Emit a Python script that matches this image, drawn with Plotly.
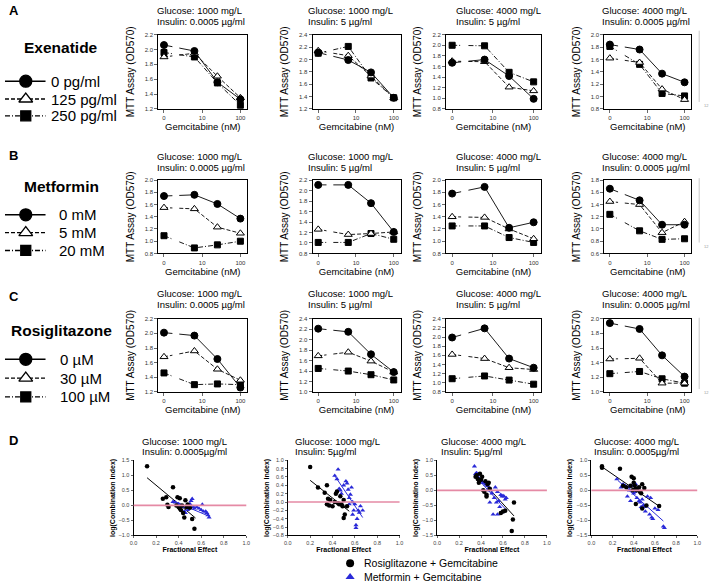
import math
import plotly.graph_objects as go

W, H = 720, 586
FONT = "Liberation Sans, Arial, sans-serif"

# ---------------- data ----------------
GEM_CONC = [0, 6.25, 25, 100]          # nM
GEM_TICK_TEXT = ["0", "10", "100"]

GLUCOSE = ["Glucose: 1000 mg/L", "Glucose: 1000 mg/L", "Glucose: 4000 mg/L", "Glucose: 4000 mg/L"]
INSULIN = ["Insulin: 0.0005 \u00b5g/ml", "Insulin: 5 \u00b5g/ml", "Insulin: 5 \u00b5g/ml", "Insulin: 0.0005 \u00b5g/ml"]
INSULIN_D = ["Insulin: 0.0005\u00b5g/ml", "Insulin: 5\u00b5g/ml", "Insulin: 5\u00b5g/ml", "Insulin: 0.0005\u00b5g/ml"]

EXENATIDE_DOSES = ["0 pg/ml", "125 pg/ml", "250 pg/ml"]
EXENATIDE_0 = [[2.06, 1.98, 1.56, 1.33], [2.11, 1.99, 1.79, 1.38], [1.67, 1.73, 1.42, 0.99], [1.84, 1.76, 1.37, 1.23]]
EXENATIDE_125 = [[1.90, 1.95, 1.64, 1.35], [2.14, 2.06, 1.73, 1.38], [1.70, 1.69, 1.21, 1.14], [1.62, 1.55, 1.12, 0.95]]
EXENATIDE_250 = [[1.96, 1.90, 1.55, 1.25], [2.10, 2.21, 1.70, 1.38], [2.00, 1.99, 1.49, 1.31], [1.81, 1.52, 1.05, 1.01]]
EXENATIDE_YRANGE = [[1.2, 2.2], [1.2, 2.4], [0.8, 2.2], [0.8, 2.0]]

METFORMIN_DOSES = ["0 mM", "5 mM", "20 mM"]
METFORMIN_0 = [[1.74, 1.76, 1.61, 1.37], [2.11, 2.11, 1.76, 1.21], [1.78, 1.89, 1.22, 1.31], [1.66, 1.47, 1.07, 1.07]]
METFORMIN_5 = [[1.55, 1.53, 1.23, 1.13], [1.26, 1.16, 1.18, 1.21], [1.40, 1.39, 1.20, 1.04], [1.45, 1.40, 0.94, 1.12]]
METFORMIN_20 = [[1.09, 0.89, 0.94, 1.00], [1.01, 1.01, 1.18, 1.07], [1.25, 1.25, 1.06, 0.98], [1.24, 0.97, 0.83, 0.84]]
METFORMIN_YRANGE = [[0.8, 2.0], [0.8, 2.2], [0.8, 2.0], [0.6, 1.8]]

ROSI_DOSES = ["0 \u00b5M", "30 \u00b5M", "100 \u00b5M"]
ROSI_0 = [[2.01, 1.97, 1.65, 1.26], [2.21, 2.15, 1.72, 1.38], [1.99, 2.19, 1.53, 1.33], [1.94, 1.86, 1.50, 1.21]]
ROSI_30 = [[1.68, 1.76, 1.51, 1.36], [1.69, 1.76, 1.59, 1.38], [1.62, 1.53, 1.33, 1.29], [1.45, 1.46, 1.12, 1.12]]
ROSI_100 = [[1.46, 1.30, 1.31, 1.30], [1.45, 1.40, 1.33, 1.23], [1.09, 1.15, 1.06, 0.97], [1.25, 1.28, 1.18, 1.12]]
ROSI_YRANGE = [[1.2, 2.2], [1.0, 2.4], [0.8, 2.4], [1.0, 2.0]]

# Panel D: fractional effect vs log(combination index)
D_ROSI_X = [
    [0.12, 0.26, 0.29, 0.30, 0.31, 0.35, 0.38, 0.39, 0.40, 0.41, 0.41, 0.42, 0.43, 0.44, 0.45, 0.46, 0.47, 0.48, 0.50, 0.52, 0.54],
    [0.20, 0.27, 0.33, 0.35, 0.36, 0.35, 0.37, 0.38, 0.40, 0.42, 0.43, 0.44, 0.45, 0.46, 0.47, 0.48, 0.49, 0.50, 0.50, 0.51, 0.53],
    [0.35, 0.36, 0.37, 0.38, 0.39, 0.40, 0.41, 0.42, 0.43, 0.44, 0.45, 0.45, 0.46, 0.47, 0.48, 0.58, 0.60, 0.62, 0.68, 0.69, 0.70],
    [0.10, 0.10, 0.27, 0.30, 0.33, 0.37, 0.38, 0.39, 0.40, 0.40, 0.41, 0.42, 0.42, 0.43, 0.45, 0.46, 0.47, 0.48, 0.48, 0.50, 0.52, 0.64],
]
D_ROSI_Y = [
    [1.30, 0.22, 0.27, 0.02, -0.05, 0.60, 0.00, 0.27, -0.05, 0.24, -0.10, -0.15, 0.00, -0.25, -0.40, 0.17, -0.05, 0.03, -0.08, -0.45, -0.78],
    [0.84, 0.35, 0.22, 0.40, 0.08, -0.05, -0.08, 0.05, -0.10, 0.00, 0.20, 0.25, -0.03, -0.05, 0.14, -0.05, -0.10, 0.05, -0.38, -0.30, -0.10],
    [0.45, 0.50, 0.38, 0.25, 0.55, 0.35, 0.45, 0.00, -0.05, 0.30, -0.15, -0.20, 0.20, 0.25, 0.05, -0.75, -0.70, -0.68, -1.35, -0.97, -0.40],
    [0.75, 0.80, 0.72, 0.15, 0.10, 0.15, 0.45, 0.00, 0.40, 0.25, 0.15, 0.05, -0.45, 0.00, 0.10, -0.05, -0.10, 0.20, -0.60, 0.08, -0.50, -0.52],
]
D_MET_X = [
    [0.35, 0.37, 0.40, 0.42, 0.44, 0.45, 0.46, 0.48, 0.50, 0.51, 0.52, 0.53, 0.54, 0.56, 0.58, 0.60, 0.61, 0.62, 0.64, 0.65, 0.66, 0.67],
    [0.42, 0.44, 0.45, 0.46, 0.47, 0.48, 0.50, 0.52, 0.53, 0.54, 0.55, 0.55, 0.56, 0.57, 0.58, 0.58, 0.59, 0.60, 0.61, 0.61, 0.62, 0.63, 0.64, 0.65, 0.67],
    [0.34, 0.35, 0.36, 0.37, 0.38, 0.40, 0.42, 0.44, 0.46, 0.47, 0.48, 0.48, 0.50, 0.51, 0.52, 0.53, 0.54, 0.55, 0.56, 0.57, 0.58, 0.59, 0.60, 0.61, 0.62, 0.63, 0.55, 0.59],
    [0.24, 0.28, 0.30, 0.32, 0.34, 0.35, 0.36, 0.37, 0.38, 0.40, 0.41, 0.42, 0.43, 0.44, 0.45, 0.46, 0.47, 0.48, 0.49, 0.50, 0.51, 0.53, 0.55, 0.56, 0.57, 0.58, 0.60, 0.63, 0.68, 0.69],
]
D_MET_Y = [
    [0.12, 0.10, 0.05, 0.00, -0.05, -0.20, -0.25, -0.15, 0.05, 0.15, 0.22, -0.05, -0.10, -0.05, -0.10, -0.15, 0.03, -0.20, -0.20, -0.25, -0.32, -0.40],
    [0.63, 0.55, 0.78, 0.32, 0.28, 0.20, 0.40, 0.50, 0.45, 0.30, 0.10, -0.05, 0.18, 0.35, 0.00, -0.30, -0.20, -0.05, -0.55, -0.62, -0.40, -0.20, -0.25, -0.10, -0.20],
    [0.80, 0.55, 0.58, 0.45, 0.40, 0.30, 0.25, 0.20, 0.15, 0.05, 0.00, -0.40, -0.10, -0.80, -0.25, 0.10, -0.40, -0.05, -0.35, -0.55, -0.15, -0.20, -0.18, -0.20, -0.30, -0.25, -0.80, -0.72],
    [0.37, 0.10, 0.20, 0.15, -0.20, 0.10, 0.00, -0.35, 0.15, -0.10, -0.05, 0.20, -0.25, 0.00, -0.35, -0.40, -0.55, -0.30, -0.50, -0.55, -0.70, -0.20, -0.80, -0.25, -0.90, -0.95, -0.60, -0.65, -1.20, -1.25],
]
# regression line end points
D_ROSI_FIT_X = [[0.12, 0.55], [0.20, 0.55], [0.35, 0.70], [0.10, 0.65]]
D_ROSI_FIT_Y = [[0.92, -0.42], [0.52, -0.22], [0.55, -0.85], [0.78, -0.55]]
D_MET_FIT_X = [[0.35, 0.67], [0.42, 0.67], [0.34, 0.63], [0.25, 0.68]]
D_MET_FIT_Y = [[0.15, -0.36], [0.63, -0.37], [0.50, -0.65], [0.33, -1.02]]
D_YRANGE = [[-1.0, 1.5], [-0.8, 1.0], [-1.5, 1.0], [-1.5, 1.0]]
D_YDTICK = [0.5, 0.2, 0.5, 0.5]
D_YTITLE = ["log(Combination Index)", "log(Combination Index)", "log(Combinatino Index)", "log(Combination Index)"]
D_LEGEND = ["Rosiglitazone + Gemcitabine", "Metformin + Gemcitabine"]

ROWS = [
    dict(letter="A", drug="Exenatide", doses=EXENATIDE_DOSES, series=[EXENATIDE_0, EXENATIDE_125, EXENATIDE_250], yr=EXENATIDE_YRANGE),
    dict(letter="B", drug="Metformin", doses=METFORMIN_DOSES, series=[METFORMIN_0, METFORMIN_5, METFORMIN_20], yr=METFORMIN_YRANGE),
    dict(letter="C", drug="Rosiglitazone", doses=ROSI_DOSES, series=[ROSI_0, ROSI_30, ROSI_100], yr=ROSI_YRANGE),
]

# ---------------- layout geometry (pixels) ----------------
COL_X = [(156, 246), (312, 401), (447, 543), (607, 695)]
ROW_Y = [(32, 107), (179, 253), (319, 393)]
TITLE_X = [153, 305, 455, 603]
TITLE_Y = [(8, 19), (155, 166), (294, 305)]
D_COL_X = [(131, 245), (287, 400), (438, 549), (594, 701)]
D_ROW_Y = (462, 538)
D_TITLE_X = [138, 292, 440, 595]
D_TITLE_Y = (443, 453)

LETTER_Y = [8, 154, 297, 442]
DRUG_Y = [45, 185, 331]
LEG_Y = [[79, 97, 114], [214, 232, 250], [360, 379, 398]]
LEG_TEXT_X = [45, 54, 55]

ZERO_AT = 1.0           # where concentration 0 sits on the broken log axis
GAP = (0.22, 0.40)      # log10 interval of the axis break
XR = [-0.15, 2.18]

STYLES = [
    dict(symbol="circle", fill="black", dash="solid"),
    dict(symbol="triangle-up", fill="white", dash="4px,2px"),
    dict(symbol="square", fill="black", dash="5px,2px,1px,2px"),
]


def xd(a, b):
    return [a / W, b / W]


def yd(a, b):
    return [1 - b / H, 1 - a / H]


def axpos(v):
    return ZERO_AT if v == 0 else v


fig = go.Figure()
layout = dict(
    width=W, height=H, margin=dict(l=0, r=0, t=0, b=0),
    paper_bgcolor="white", plot_bgcolor="rgba(0,0,0,0)",
    showlegend=False, font=dict(family=FONT, color="black"),
    annotations=[], shapes=[], hovermode=False,
)
ann = layout["annotations"]
shp = layout["shapes"]

n = 0
for r, row in enumerate(ROWS):
    for c in range(4):
        n += 1
        xs = "x" if n == 1 else f"x{n}"
        ys = "y" if n == 1 else f"y{n}"
        xk = "xaxis" if n == 1 else f"xaxis{n}"
        yk = "yaxis" if n == 1 else f"yaxis{n}"
        layout[xk] = dict(
            domain=xd(*COL_X[c]), anchor=ys, type="log", range=XR,
            tickvals=[ZERO_AT, 10, 100], ticktext=GEM_TICK_TEXT,
            showline=True, mirror=True, linecolor="black", linewidth=1,
            ticks="outside", ticklen=3, tickwidth=0.8, tickfont=dict(size=6, color="#333"),
            showgrid=False, zeroline=False,
            title=dict(text="Gemcitabine (nM)", font=dict(size=9.5), standoff=3),
        )
        layout[yk] = dict(
            domain=yd(*ROW_Y[r]), anchor=xs, range=row["yr"][c], dtick=0.2, tickformat=".1f",
            showline=True, mirror=True, linecolor="black", linewidth=1,
            ticks="outside", ticklen=3, tickwidth=0.8, tickfont=dict(size=6, color="#333"),
            showgrid=False, zeroline=False,
            title=dict(text="MTT Assay (OD570)", font=dict(size=10), standoff=8),
        )
        # lines, broken at the axis break
        l0 = math.log10(ZERO_AT)
        l1 = math.log10(GEM_CONC[1])
        for k in (2, 1, 0):
            vals = row["series"][k][c]
            st = STYLES[k]
            ya_, yb_ = vals[0], vals[1]
            ga = ya_ + (yb_ - ya_) * (GAP[0] - l0) / (l1 - l0)
            gb = ya_ + (yb_ - ya_) * (GAP[1] - l0) / (l1 - l0)
            lx = [axpos(GEM_CONC[0]), 10 ** GAP[0], None, 10 ** GAP[1]] + GEM_CONC[1:]
            ly = [vals[0], ga, None, gb] + vals[1:]
            fig.add_trace(go.Scatter(x=lx, y=ly, mode="lines", xaxis=xs, yaxis=ys,
                                     line=dict(color="black", width=0.9, dash=st["dash"]),
                                     hoverinfo="skip"))
        for k in (2, 1, 0):
            vals = row["series"][k][c]
            st = STYLES[k]
            fig.add_trace(go.Scatter(
                x=[axpos(v) for v in GEM_CONC], y=vals, mode="markers", xaxis=xs, yaxis=ys,
                marker=dict(symbol=st["symbol"], size=7 if k != 2 else 6, color=st["fill"],
                            line=dict(color="black", width=1)),
            ))
        # axis-break marks
        for yy in (0, 1):
            shp.append(dict(type="line", xref=xs, yref=f"{ys} domain", x0=0.25, x1=0.37, y0=yy, y1=yy,
                            line=dict(color="white", width=3)))
            for cx in (0.26, 0.36):
                shp.append(dict(type="line", xref=xs, yref=f"{ys} domain", x0=cx - 0.045, x1=cx + 0.045,
                                y0=yy - 0.05, y1=yy + 0.05, line=dict(color="black", width=0.9)))
        ann.append(dict(text=GLUCOSE[c], x=TITLE_X[c] / W, y=1 - TITLE_Y[r][0] / H, xref="paper", yref="paper",
                        xanchor="left", yanchor="middle", showarrow=False, font=dict(size=9.5)))
        ann.append(dict(text=INSULIN[c], x=TITLE_X[c] / W, y=1 - TITLE_Y[r][1] / H, xref="paper", yref="paper",
                        xanchor="left", yanchor="middle", showarrow=False, font=dict(size=9.5)))

# ---------------- panel D ----------------
for c in range(4):
    n += 1
    xs, ys = f"x{n}", f"y{n}"
    layout[f"xaxis{n}"] = dict(
        domain=xd(*D_COL_X[c]), anchor=ys, range=[0, 1], dtick=0.2, tickformat=".1f",
        showline=True, mirror=False, linecolor="black", linewidth=1,
        ticks="outside", ticklen=2, tickwidth=0.8, tickfont=dict(size=5.5, color="#444"),
        showgrid=False, zeroline=False,
        title=dict(text="<b>Fractional Effect</b>", font=dict(size=7), standoff=2),
    )
    layout[f"yaxis{n}"] = dict(
        domain=yd(*D_ROW_Y), anchor=xs, range=D_YRANGE[c], dtick=D_YDTICK[c], tickformat=".1f",
        showline=True, mirror=False, linecolor="black", linewidth=1,
        ticks="outside", ticklen=2, tickwidth=0.8, tickfont=dict(size=5.5, color="#444"),
        showgrid=False, zeroline=False,
        title=dict(text=f"<b>{D_YTITLE[c]}</b>", font=dict(size=7), standoff=2),
    )
    shp.append(dict(type="line", xref=f"{xs} domain", yref=ys, x0=0, x1=1, y0=0, y1=0,
                    line=dict(color="#e58aa5", width=1.6)))
    fig.add_trace(go.Scatter(x=D_ROSI_FIT_X[c], y=D_ROSI_FIT_Y[c], mode="lines", xaxis=xs, yaxis=ys,
                             line=dict(color="black", width=1)))
    fig.add_trace(go.Scatter(x=D_MET_FIT_X[c], y=D_MET_FIT_Y[c], mode="lines", xaxis=xs, yaxis=ys,
                             line=dict(color="#2a2ad8", width=1)))
    fig.add_trace(go.Scatter(x=D_MET_X[c], y=D_MET_Y[c], mode="markers", xaxis=xs, yaxis=ys,
                             marker=dict(symbol="triangle-up", size=4.5, color="#2a2ad8")))
    fig.add_trace(go.Scatter(x=D_ROSI_X[c], y=D_ROSI_Y[c], mode="markers", xaxis=xs, yaxis=ys,
                             marker=dict(symbol="circle", size=4.5, color="black")))
    ann.append(dict(text=GLUCOSE[c], x=D_TITLE_X[c] / W, y=1 - D_TITLE_Y[0] / H, xref="paper", yref="paper",
                    xanchor="left", yanchor="middle", showarrow=False, font=dict(size=9.5)))
    ann.append(dict(text=INSULIN_D[c], x=D_TITLE_X[c] / W, y=1 - D_TITLE_Y[1] / H, xref="paper", yref="paper",
                    xanchor="left", yanchor="middle", showarrow=False, font=dict(size=9.5)))

# ---------------- overlay (pixel space) for legends and labels ----------------
n += 1
OX, OY = f"x{n}", f"y{n}"
layout[f"xaxis{n}"] = dict(domain=[0, 1], range=[0, W], visible=False, anchor=OY, fixedrange=True)
layout[f"yaxis{n}"] = dict(domain=[0, 1], range=[H, 0], visible=False, anchor=OX, fixedrange=True)

for r, row in enumerate(ROWS):
    for k in range(3):
        st = STYLES[k]
        yy = LEG_Y[r][k]
        fig.add_trace(go.Scatter(x=[1, 42], y=[yy, yy], mode="lines", xaxis=OX, yaxis=OY,
                                 line=dict(color="black", width=1.4, dash=st["dash"])))
        fig.add_trace(go.Scatter(x=[22], y=[yy], mode="markers", xaxis=OX, yaxis=OY,
                                 marker=dict(symbol=st["symbol"], size=12 if k != 2 else 10,
                                             color=st["fill"],
                                             line=dict(color="black", width=1.3))))
        ann.append(dict(text=row["doses"][k], x=LEG_TEXT_X[r] / W, y=1 - yy / H, xref="paper", yref="paper",
                        xanchor="left", yanchor="middle", showarrow=False, font=dict(size=15)))
    ann.append(dict(text=f"<b>{row['drug']}</b>", x=58 / W, y=1 - DRUG_Y[r] / H, xref="paper", yref="paper",
                    xanchor="center", yanchor="middle", showarrow=False, font=dict(size=15.5)))

for i, letter in enumerate(["A", "B", "C", "D"]):
    ann.append(dict(text=f"<b>{letter}</b>", x=3 / W, y=1 - LETTER_Y[i] / H, xref="paper", yref="paper",
                    xanchor="left", yanchor="middle", showarrow=False, font=dict(size=13)))

# panel D legend
fig.add_trace(go.Scatter(x=[350], y=[566], mode="markers", xaxis=OX, yaxis=OY,
                         marker=dict(symbol="circle", size=8, color="black")))
fig.add_trace(go.Scatter(x=[350], y=[580], mode="markers", xaxis=OX, yaxis=OY,
                         marker=dict(symbol="triangle-up", size=8, color="#2a2ad8")))
for i, t in enumerate(D_LEGEND):
    ann.append(dict(text=t, x=362 / W, y=1 - (566 + 14 * i) / H, xref="paper", yref="paper",
                    xanchor="left", yanchor="middle", showarrow=False, font=dict(size=10.5)))

# faint scan-edge marks at the right
for (y0, y1) in [(28, 100), (177, 242), (318, 390)]:
    shp.append(dict(type="line", xref="paper", yref="paper", x0=703 / W, x1=703 / W,
                    y0=1 - y0 / H, y1=1 - y1 / H, line=dict(color="#bbbbbb", width=0.8)))
    ann.append(dict(text="12", x=706 / W, y=1 - (y1 + 4) / H, xref="paper", yref="paper",
                    xanchor="left", yanchor="middle", showarrow=False, font=dict(size=4, color="#999")))

fig.update_layout(**layout)
fig.write_html("out.html", config={"displayModeBar": False, "staticPlot": True},
               post_script="document.body.style.margin='0';")
